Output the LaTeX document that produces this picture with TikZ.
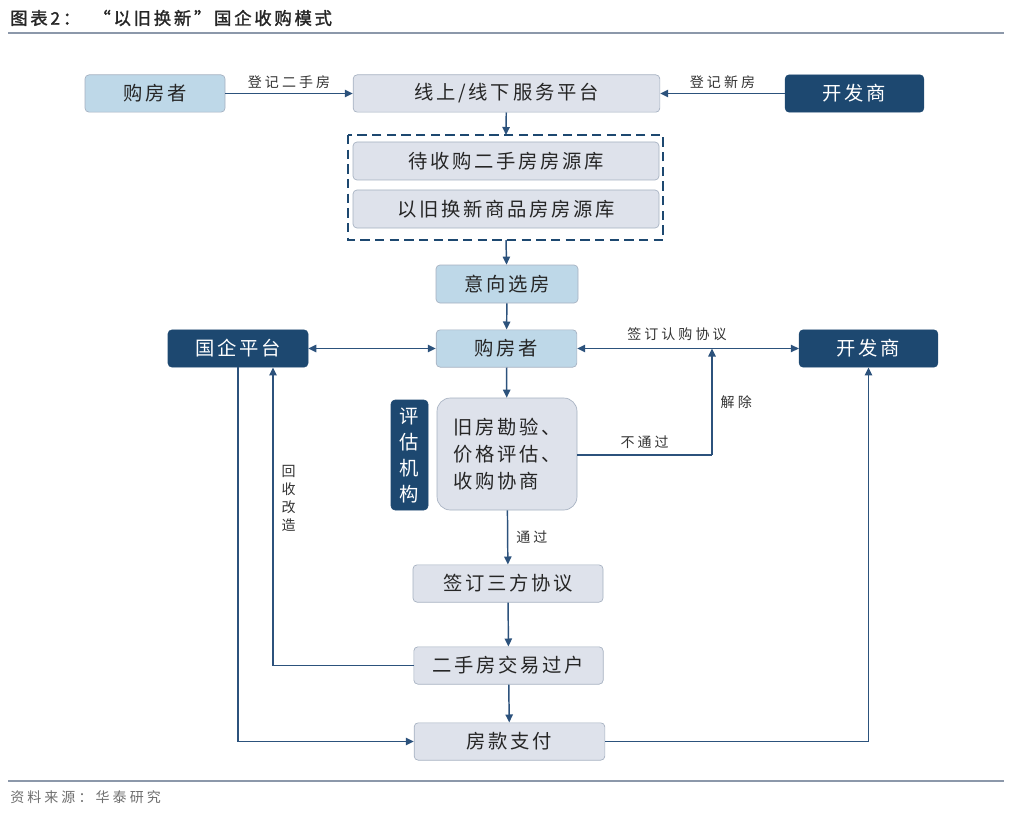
\documentclass[tikz,border=0pt]{standalone}
\usepackage{fontspec}
\setmainfont{Noto Sans CJK SC}
\newfontfamily\cjk[LetterSpace=14]{Noto Sans CJK SC}
\newfontfamily\cjksmall[LetterSpace=22]{Noto Sans CJK SC}
\newfontfamily\cjkbold[FakeBold=1.6,LetterSpace=16]{Noto Sans CJK SC}
\usetikzlibrary{arrows.meta,positioning}
\definecolor{navy}{RGB}{29,72,112}
\definecolor{lineblue}{RGB}{44,82,124}
\definecolor{paleblue}{RGB}{190,216,232}
\definecolor{palegray}{RGB}{222,226,235}
\definecolor{edgegray}{RGB}{165,176,192}
\definecolor{rulegray}{RGB}{140,152,170}
\definecolor{srcgray}{RGB}{110,110,110}
\tikzset{
  base/.style={rectangle, rounded corners=3pt, inner sep=0pt, font=\cjk\fontsize{14.5}{16}\selectfont, text=black!85},
  darkbox/.style={base, fill=navy, draw=navy, text=white},
  bluebox/.style={base, fill=paleblue, draw=edgegray, line width=0.5pt},
  graybox/.style={base, fill=palegray, draw=edgegray, line width=0.5pt},
  conn/.style={draw=lineblue, line width=1.1pt, -{Triangle[length=6pt,width=5.5pt]}},
  plain/.style={draw=lineblue, line width=1.1pt},
  both/.style={draw=lineblue, line width=1.1pt, {Triangle[length=6pt,width=5.5pt]}-{Triangle[length=6pt,width=5.5pt]}},
  lbl/.style={font=\cjksmall\fontsize{10.5}{12}\selectfont, text=black!80, inner sep=1pt},
}
\begin{document}
\begin{tikzpicture}[x=0.75pt, y=-0.75pt]
\useasboundingbox (0,0) rectangle (1024,813);

% heading and rules
\node[anchor=west, font=\cjkbold\fontsize{13}{15}\selectfont, text=black!85, inner sep=0pt] (title) at (10,18) {图表2：\ \ “以旧换新”国企收购模式};
\draw[rulegray, line width=1pt] (8,33) -- (1004,33);
\draw[rulegray, line width=1pt] (8,781) -- (1004,781);
\node[anchor=west, font=\cjksmall\fontsize{10.5}{12}\selectfont, text=srcgray, inner sep=0pt] (src) at (10,797) {资料来源：华泰研究};

% top row
\node[bluebox, minimum width=105pt, minimum height=28pt] (buyerA) at (155,93.5) {购房者};
\node[graybox, minimum width=230pt, minimum height=28pt] (platform) at (506.5,93.5) {线上/线下服务平台};
\node[darkbox, minimum width=104pt, minimum height=28pt] (devA) at (854.5,93.5) {开发商};

% listing pools
\node[graybox, minimum width=229.5pt, minimum height=28.5pt] (poolA) at (506,161) {待收购二手房房源库};
\node[graybox, minimum width=229.5pt, minimum height=28.5pt] (poolB) at (506,209) {以旧换新商品房房源库};
\draw[navy, line width=1.4pt, dash pattern=on 7pt off 4pt] (348,135) coordinate (poolNW) rectangle (663,240) coordinate (poolSE);
\coordinate (poolTop) at (506,135);
\coordinate (poolBot) at (506,240);

\node[bluebox, minimum width=106.5pt, minimum height=28.5pt] (choose) at (507,284) {意向选房};

% middle row
\node[darkbox, minimum width=105pt, minimum height=28pt] (soe) at (238,348.5) {国企平台};
\node[bluebox, minimum width=105.5pt, minimum height=28pt] (buyerB) at (506.5,348.5) {购房者};
\node[darkbox, minimum width=104pt, minimum height=28pt] (devB) at (868.5,348.5) {开发商};

% appraisal
\node[graybox, rounded corners=10pt, minimum width=105pt, minimum height=84pt, align=left,
      font=\cjk\fontsize{14.5}{20}\selectfont] (eval) at (507,454) {旧房勘验、\\价格评估、\\收购协商};
\node[darkbox, minimum width=27.75pt, minimum height=82.5pt, align=center,
      font=\cjk\fontsize{14.5}{19.5}\selectfont] (agency) at (409.5,455) {评\\估\\机\\构};

% lower chain
\node[graybox, minimum width=142.5pt, minimum height=28pt] (tri) at (508,583.5) {签订三方协议};
\node[graybox, minimum width=142pt, minimum height=28pt] (transfer) at (508.5,665.5) {二手房交易过户};
\node[graybox, minimum width=143pt, minimum height=28pt] (pay) at (509.5,741.5) {房款支付};

% connectors: top
\draw[conn] (buyerA) -- node[lbl, above=2pt] {登记二手房} (platform);
\draw[conn] (devA) -- node[lbl, above=2pt] {登记新房} (platform);
\draw[conn] (platform) -- (poolTop);
\draw[conn] (poolBot) -- (choose);
\draw[conn] (choose) -- (buyerB);

% connectors: middle
\draw[both] (soe) -- (buyerB);
\draw[both] (buyerB) -- node[lbl, above=4pt, pos=0.45] {签订认购协议} (devB);
\coordinate (cancel) at (712,348.5);
\draw[conn] (buyerB) -- (eval);
\draw[plain] (eval.east |- 0,455) -- node[lbl, above=3pt] {不通过} (712,455);
\draw[conn] (712,455) -- node[lbl, right=5pt, pos=0.5] {解除} (cancel);

% connectors: lower
\draw[conn] (eval) -- node[lbl, right=5pt] {通过} (tri);
\draw[conn] (tri) -- (transfer);
\draw[conn] (transfer) -- (pay);

% side loops
\draw[conn] (transfer.west) -| node[lbl, pos=0.78, right=5pt, align=center, font=\cjk\fontsize{10.5}{13.5}\selectfont] {回\\收\\改\\造} (soe.south -| 273,0);
\draw[conn] (soe.south -| 238,0) |- (pay.west);
\draw[conn] (pay.east) -| (devB.south);
\end{tikzpicture}
\end{document}
